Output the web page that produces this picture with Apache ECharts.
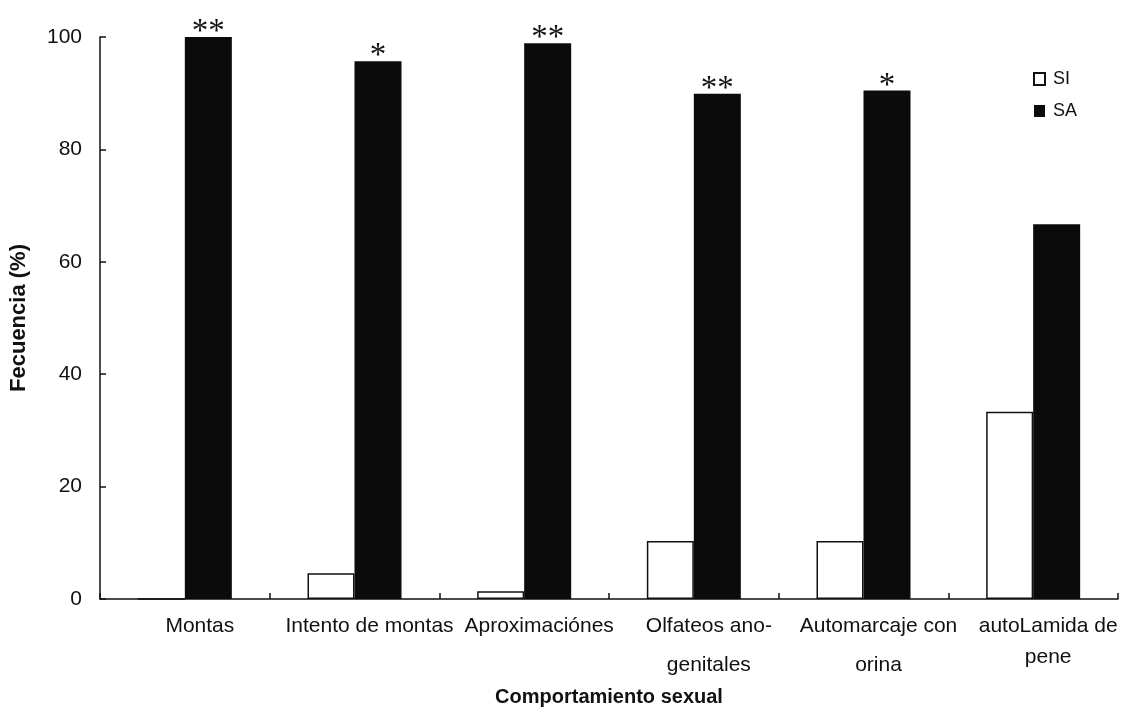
<!DOCTYPE html>
<html>
<head>
<meta charset="utf-8">
<script src="https://cdn.jsdelivr.net/npm/echarts@6/dist/echarts.min.js"></script>
<style>html,body{margin:0;padding:0;background:#fff;}#c{width:1132px;height:712px;}</style>
</head>
<body>
<div id="c"></div>
<script>
var categories = ['Montas', 'Intento de montas', 'Aproximaciónes', 'Olfateos ano-\ngenitales', 'Automarcaje con\norina', 'autoLamida de\npene'];
var siValues = [0, 4.6, 1.4, 10.3, 10.3, 33.3];
var saValues = [100, 95.7, 98.9, 89.9, 90.5, 66.7];
var significance = ['**', '*', '**', '**', '*', ''];
var yTicks = [0, 20, 40, 60, 80, 100];

var font = 'Liberation Sans, Arial, sans-serif';
var chart = echarts.init(document.getElementById('c'));
chart.setOption({
  backgroundColor: '#fff',
  animation: false,
  grid: { left: 98, right: 14, top: 37, bottom: 110, containLabel: false },
  legend: {
    orient: 'vertical', left: 1033, top: 70, padding: 0,
    icon: 'rect',
    itemWidth: 11, itemHeight: 12, itemGap: 14,
    textStyle: { fontFamily: font, fontSize: 18, color: '#111', padding: [0, 0, 0, 3] },
    data: ['SI', 'SA']
  },
  xAxis: {
    type: 'category',
    data: categories,
    name: 'Comportamiento sexual',
    nameLocation: 'middle',
    nameGap: 88,
    nameTextStyle: { fontFamily: font, fontSize: 20, fontWeight: 'bold', color: '#111' },
    axisLine: { lineStyle: { color: '#111', width: 1.5 } },
    axisTick: { show: true, inside: true, length: 6, interval: 0, lineStyle: { color: '#111', width: 1.5 } },
    axisLabel: {
      interval: 0, margin: 8, color: '#111', fontFamily: font, fontSize: 21,
      formatter: function (v, i) {
        var lines = v.split('\n');
        return lines.map(function (l, k) {
          if (k === 0) return '{a|' + l + '}';
          return (i === 5 ? '{c|' : '{a|') + l + '}';
        }).join('\n');
      },
      rich: {
        a: { fontFamily: font, fontSize: 21, lineHeight: 39, color: '#111', padding: [0, 0, 0, 30] },
        c: { fontFamily: font, fontSize: 21, lineHeight: 22, color: '#111', padding: [0, 0, 0, 30] }
      }
    },
    splitLine: { show: false }
  },
  yAxis: {
    type: 'value',
    min: 0, max: 100, interval: 20,
    name: 'Fecuencia (%)',
    nameLocation: 'middle',
    nameGap: 70,
    nameTextStyle: { fontFamily: font, fontSize: 22, fontWeight: 'bold', color: '#111' },
    axisLine: { show: true, lineStyle: { color: '#111', width: 1.5 } },
    axisTick: { show: true, inside: true, length: 6, lineStyle: { color: '#111', width: 1.5 } },
    axisLabel: {
      margin: 18, color: '#111', fontFamily: font, fontSize: 21,
      formatter: function (v) { return yTicks.indexOf(v) >= 0 ? String(v) : ''; }
    },
    splitLine: { show: false }
  },
  series: [
    {
      name: 'SI', type: 'bar', data: siValues,
      barWidth: 47, barGap: '0%',
      itemStyle: { color: '#fff', borderColor: '#111', borderWidth: 1.5 }
    },
    {
      name: 'SA', type: 'bar', data: saValues,
      barWidth: 47, barGap: '0%',
      itemStyle: { color: '#0b0b0b', borderColor: '#0b0b0b', borderWidth: 0 },
      label: {
        show: true, position: 'top', distance: 0, offset: [0, 12],
        fontFamily: 'Liberation Serif, Times New Roman, serif', fontSize: 33, lineHeight: 33, color: '#111',
        formatter: function (p) { return significance[p.dataIndex]; }
      }
    }
  ]
});
</script>
</body>
</html>
